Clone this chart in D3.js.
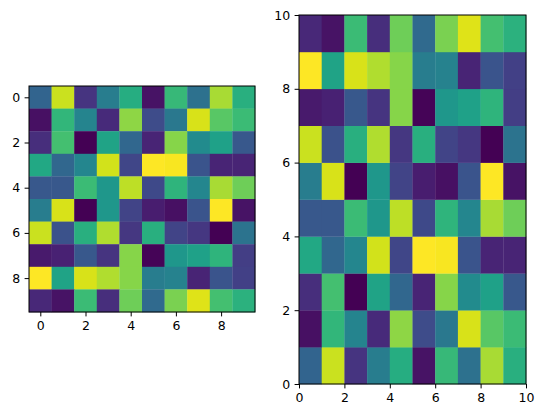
<!DOCTYPE html>
<html>
<head>
<meta charset="utf-8">
<script src="https://cdn.jsdelivr.net/npm/d3@7"></script>
<style>
  body { margin: 0; background: #fff; }
  svg { display: block; }
  .tick text { font-family: "DejaVu Sans", sans-serif; font-size: 12.5px; fill: #000; }
  .tick line { stroke: #000; stroke-width: 1; }
  .domain { display: none; }
</style>
</head>
<body>
<div class="chart"></div>
<script>
var svgWidth = 543;
var svgHeight = 418;

// cell values, row 0 = top of the imshow panel = bottom of the pcolor panel
var row0 = [0.32, 0.92, 0.15, 0.42, 0.62, 0.05, 0.67, 0.37, 0.87, 0.63];
var row1 = [0.04, 0.66, 0.45, 0.12, 0.83, 0.23, 0.40, 0.94, 0.74, 0.68];
var row2 = [0.13, 0.70, 0.00, 0.58, 0.33, 0.10, 0.82, 0.48, 0.57, 0.27];
var row3 = [0.60, 0.33, 0.46, 0.93, 0.21, 1.00, 0.99, 0.26, 0.10, 0.10];
var row4 = [0.27, 0.27, 0.68, 0.53, 0.90, 0.22, 0.65, 0.46, 0.87, 0.78];
var row5 = [0.42, 0.94, 0.00, 0.53, 0.20, 0.08, 0.04, 0.26, 1.00, 0.05];
var row6 = [0.92, 0.25, 0.63, 0.88, 0.16, 0.63, 0.20, 0.16, 0.00, 0.38];
var row7 = [0.07, 0.09, 0.27, 0.15, 0.82, 0.01, 0.53, 0.57, 0.65, 0.18];
var row8 = [1.00, 0.58, 0.94, 0.88, 0.82, 0.42, 0.44, 0.10, 0.26, 0.19];
var row9 = [0.11, 0.05, 0.68, 0.13, 0.78, 0.34, 0.80, 0.95, 0.70, 0.64];
var rows = [row0, row1, row2, row3, row4, row5, row6, row7, row8, row9];

var leftTicks = [0, 2, 4, 6, 8];
var rightTicks = [0, 2, 4, 6, 8, 10];

// flatten into cells
var cells = [];
rows.forEach(function (r, i) {
  r.forEach(function (v, j) {
    cells.push({ row: i, col: j, value: v });
  });
});

var color = d3.scaleSequential(d3.interpolateViridis)
  .domain(d3.extent(cells, d => d.value));

var svg = d3.select(".chart")
  .append("svg")
  .attr("width", svgWidth)
  .attr("height", svgHeight);

var tickLen = 4.4, tickPad = 4.4;

// ---- left: imshow style ----
var lx = d3.scaleLinear().domain([-0.5, 9.5]).range([29, 255]);
var ly = d3.scaleLinear().domain([-0.5, 9.5]).range([86, 312]);

svg.append("g").selectAll("rect")
  .data(cells)
  .enter()
  .append("rect")
  .attr("x", d => lx(d.col - 0.5))
  .attr("y", d => ly(d.row - 0.5))
  .attr("width", d => lx(d.col + 0.5) - lx(d.col - 0.5) + 0.3)
  .attr("height", d => ly(d.row + 0.5) - ly(d.row - 0.5) + 0.3)
  .attr("fill", d => color(d.value));

svg.append("g")
  .attr("transform", "translate(0," + ly(9.5) + ")")
  .call(d3.axisBottom(lx).tickValues(leftTicks).tickSize(tickLen).tickPadding(tickPad));
svg.append("g")
  .attr("transform", "translate(" + lx(-0.5) + ",0)")
  .call(d3.axisLeft(ly).tickValues(leftTicks).tickSize(tickLen).tickPadding(tickPad));

svg.append("rect")
  .attr("x", lx(-0.5)).attr("y", ly(-0.5))
  .attr("width", lx(9.5) - lx(-0.5)).attr("height", ly(9.5) - ly(-0.5))
  .attr("fill", "none").attr("stroke", "#000").attr("stroke-width", 1);

// ---- right: pcolor style ----
var rx = d3.scaleLinear().domain([0, 10]).range([299, 526]);
var ry = d3.scaleLinear().domain([0, 10]).range([384, 15]);

svg.append("g").selectAll("rect")
  .data(cells)
  .enter()
  .append("rect")
  .attr("x", d => rx(d.col))
  .attr("y", d => ry(d.row + 1))
  .attr("width", d => rx(d.col + 1) - rx(d.col) + 0.3)
  .attr("height", d => ry(d.row) - ry(d.row + 1) + 0.3)
  .attr("fill", d => color(d.value));

svg.append("g")
  .attr("transform", "translate(0," + ry(0) + ")")
  .call(d3.axisBottom(rx).tickValues(rightTicks).tickSize(tickLen).tickPadding(tickPad));
svg.append("g")
  .attr("transform", "translate(" + rx(0) + ",0)")
  .call(d3.axisLeft(ry).tickValues(rightTicks).tickSize(tickLen).tickPadding(tickPad));

svg.append("rect")
  .attr("x", rx(0)).attr("y", ry(10))
  .attr("width", rx(10) - rx(0)).attr("height", ry(0) - ry(10))
  .attr("fill", "none").attr("stroke", "#000").attr("stroke-width", 1);
</script>
</body>
</html>
